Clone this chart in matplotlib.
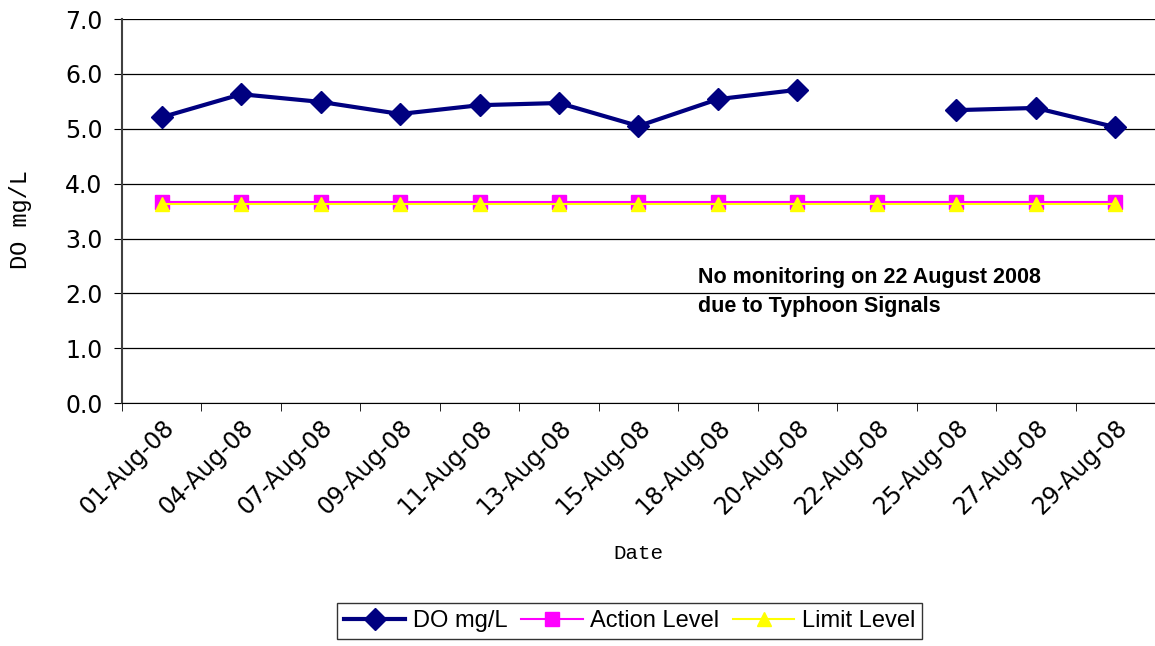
import numpy as np
import matplotlib
matplotlib.use('Agg')
import matplotlib.pyplot as plt
from matplotlib.ticker import FixedLocator

dates = ['01-Aug-08', '04-Aug-08', '07-Aug-08', '09-Aug-08', '11-Aug-08',
         '13-Aug-08', '15-Aug-08', '18-Aug-08', '20-Aug-08', '22-Aug-08',
         '25-Aug-08', '27-Aug-08', '29-Aug-08']
do_vals = [5.21, 5.63, 5.49, 5.27, 5.43, 5.47, 5.05, 5.54, 5.71, np.nan,
           5.34, 5.38, 5.03]
action_level = [3.66] * 13
limit_level = [3.63] * 13
y_ticks = [0, 1, 2, 3, 4, 5, 6, 7]

x = np.arange(len(dates))

fig = plt.figure(figsize=(11.55, 6.46), dpi=100)
ax = fig.add_axes([0.1056, 0.376, 0.8944, 0.5945])

ax.plot(x, do_vals, color='#000080', lw=3, marker='D', ms=11,
        label='DO mg/L', zorder=5)
ax.plot(x, action_level, color='#FF00FF', lw=1.5, marker='s', ms=10,
        label='Action Level', zorder=3)
ax.plot(x, limit_level, color='#FFFF00', lw=1.5, marker='^', ms=10,
        label='Limit Level', zorder=4)

ax.set_xlim(-0.5, len(dates) - 0.5)
ax.set_ylim(0, 7)
ax.yaxis.set_major_locator(FixedLocator(y_ticks))
ax.set_yticklabels([f'{v:.1f}' for v in y_ticks], fontsize=17,
                   family='DejaVu Sans')
ax.grid(axis='y', color='black', lw=0.9)
ax.set_axisbelow(True)

ax.set_xticks(x)
ax.set_xticklabels(dates, rotation=45, ha='right', rotation_mode='anchor',
                   fontsize=17, family='DejaVu Sans')
ax.tick_params(axis='x', which='major', length=0, pad=9)
ax.xaxis.set_minor_locator(FixedLocator(np.arange(-0.5, len(dates), 1)))
ax.tick_params(axis='x', which='minor', length=6, direction='out')
ax.tick_params(axis='y', length=6, direction='out', pad=8)

for s in ['top', 'right']:
    ax.spines[s].set_visible(False)
ax.spines['left'].set_color('#404040')
ax.spines['left'].set_linewidth(1.5)

ax.set_ylabel('DO mg/L', fontsize=17, family='Liberation Mono')
ax.yaxis.set_label_coords(-0.087, 0.477)
ax.set_xlabel('Date', fontsize=15, family='Liberation Mono')
ax.xaxis.set_label_coords(0.5, -0.368)

ax.text(0.558, 0.29, 'No monitoring on 22 August 2008\ndue to Typhoon Signals',
        transform=ax.transAxes, fontsize=15.5, fontweight='bold',
        family='Liberation Sans', va='center', ha='left', linespacing=1.5)

leg = fig.legend(loc='center', bbox_to_anchor=(0.545, 0.039), ncol=3,
                 prop={'family': 'Liberation Sans', 'size': 17},
                 frameon=True, fancybox=False, edgecolor='black',
                 handlelength=2.6, handletextpad=0.3, columnspacing=0.6,
                 borderpad=0.3)
leg.get_frame().set_linewidth(1.0)

fig.savefig('out.png', dpi=100)
